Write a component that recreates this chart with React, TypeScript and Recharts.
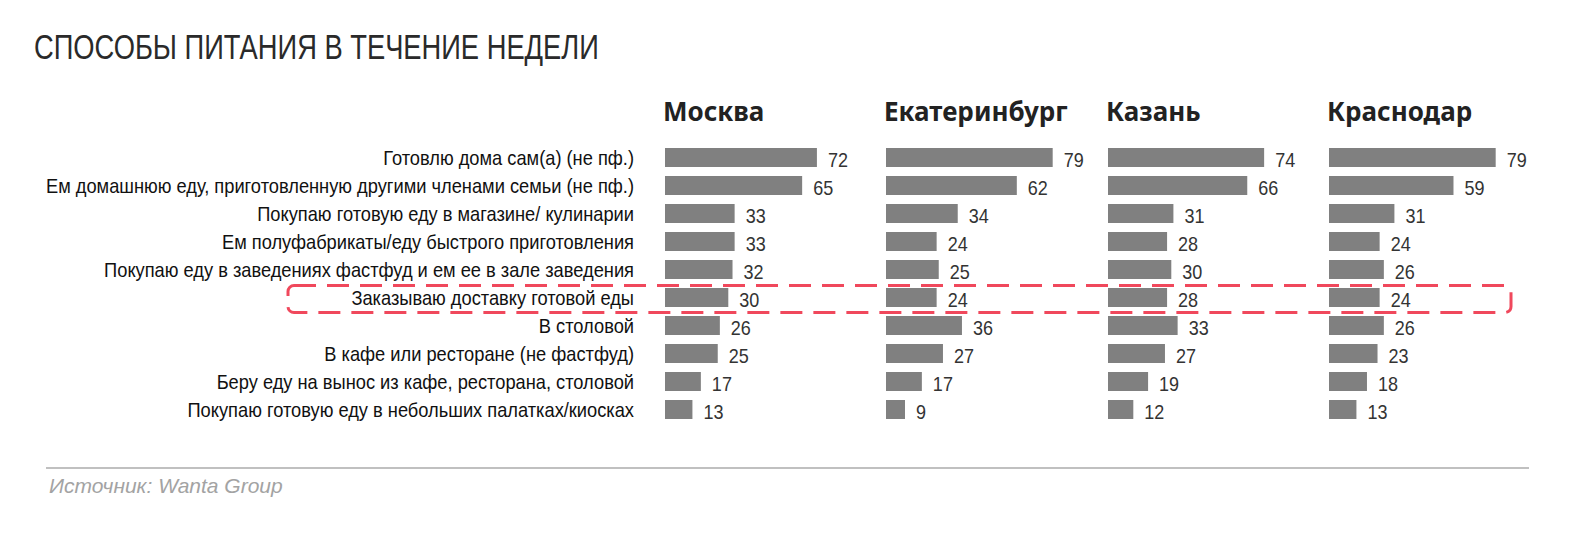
import React from 'react';
import { BarChart, Bar, XAxis, YAxis, LabelList } from 'recharts';

const categories = [
  'Готовлю дома сам(а) (не пф.)',
  'Ем домашнюю еду, приготовленную другими членами семьи (не пф.)',
  'Покупаю готовую еду в магазине/ кулинарии',
  'Ем полуфабрикаты/еду быстрого приготовления',
  'Покупаю еду в заведениях фастфуд и ем ее в зале заведения',
  'Заказываю доставку готовой еды',
  'В столовой',
  'В кафе или ресторане (не фастфуд)',
  'Беру еду на вынос из кафе, ресторана, столовой',
  'Покупаю готовую еду в небольших палатках/киосках',
];

const cities = ['Москва', 'Екатеринбург', 'Казань', 'Краснодар'];

const moscow = [72, 65, 33, 33, 32, 30, 26, 25, 17, 13];
const ekaterinburg = [79, 62, 34, 24, 25, 24, 36, 27, 17, 9];
const kazan = [74, 66, 31, 28, 30, 28, 33, 27, 19, 12];
const krasnodar = [79, 59, 31, 24, 26, 24, 26, 23, 18, 13];

const seriesList = [moscow, ekaterinburg, kazan, krasnodar];

const SANS = "'Liberation Sans', Arial, sans-serif";
const BAR = '#808080';

const panelLeft = [665, 886, 1108, 1329];
const plotW = 211;
const rowH = 28;
const chartTop = 143;

// narrow look: Liberation Sans squeezed horizontally
const CategoryTick = (props: any) => {
  const { x, y, payload } = props;
  return (
    <g transform={`translate(${x},${y}) scale(0.87,1)`}>
      <text x={0} y={0} dy="0.36em" textAnchor="end" fill="#111" fontSize={21} fontFamily={SANS}>
        {payload.value}
      </text>
    </g>
  );
};

const ValueLabel = (props: any) => {
  const { x, y, width, height, value } = props;
  const tx = Number(x) + Number(width) + 11;
  const ty = Number(y) + Number(height) / 2 + 2.5;
  return (
    <g transform={`translate(${tx},${ty}) scale(0.9,1)`}>
      <text x={0} y={0} dy="0.36em" textAnchor="start" fill="#333" fontSize={20} fontFamily={SANS}>
        {value}
      </text>
    </g>
  );
};

const App = () => {
  const tables = seriesList.map((s) => categories.map((name, i) => ({ name, value: s[i] })));
  const h = rowH * categories.length;

  return (
    <div style={{ position: 'absolute', left: 0, top: 0, width: 1586, height: 536, background: '#fff', overflow: 'hidden' }}>
      <div
        style={{
          position: 'absolute', left: 34, top: 27, fontFamily: SANS, fontSize: 35,
          color: '#2a2a2a', whiteSpace: 'nowrap', transform: 'scaleX(0.78)', transformOrigin: 'left top',
        }}
      >
        СПОСОБЫ ПИТАНИЯ В ТЕЧЕНИЕ НЕДЕЛИ
      </div>

      {cities.map((c, i) => (
        <div
          key={c}
          style={{
            position: 'absolute', left: panelLeft[i] - 2, top: 93, fontFamily: "'Noto Sans', sans-serif",
            fontWeight: 700, fontSize: 26, color: '#222', whiteSpace: 'nowrap',
          }}
        >
          {c}
        </div>
      ))}

      {tables.map((data, idx) => {
        const first = idx === 0;
        const yW = first ? panelLeft[0] : 0;
        const left = first ? 0 : panelLeft[idx];
        return (
          <div key={idx} style={{ position: 'absolute', left, top: chartTop }}>
            <BarChart
              width={yW + plotW + 45}
              height={h}
              data={data}
              layout="vertical"
              margin={{ top: 0, right: 45, bottom: 0, left: 0 }}
            >
              <XAxis type="number" domain={[0, 100]} hide />
              <YAxis
                type="category"
                dataKey="name"
                width={yW}
                hide={!first}
                axisLine={false}
                tickLine={false}
                tickSize={0}
                tickMargin={31}
                interval={0}
                tick={<CategoryTick />}
              />
              <Bar dataKey="value" fill={BAR} barSize={19} isAnimationActive={false}>
                <LabelList dataKey="value" content={<ValueLabel />} />
              </Bar>
            </BarChart>
          </div>
        );
      })}

      <svg width={1586} height={536} style={{ position: 'absolute', left: 0, top: 0, pointerEvents: 'none' }}>
        <rect
          x={288}
          y={285.5}
          width={1223}
          height={27}
          rx={6}
          fill="none"
          stroke="#f0485c"
          strokeWidth={3}
          strokeDasharray="22 11"
        />
      </svg>

      <div style={{ position: 'absolute', left: 46, top: 467, width: 1483, height: 2, background: '#c0c0c0' }} />
      <div
        style={{
          position: 'absolute', left: 49, top: 474, fontFamily: SANS,
          fontStyle: 'italic', fontSize: 21, color: '#a3a3a3', whiteSpace: 'nowrap',
        }}
      >
        Источник: Wanta Group
      </div>
    </div>
  );
};

export default App;
